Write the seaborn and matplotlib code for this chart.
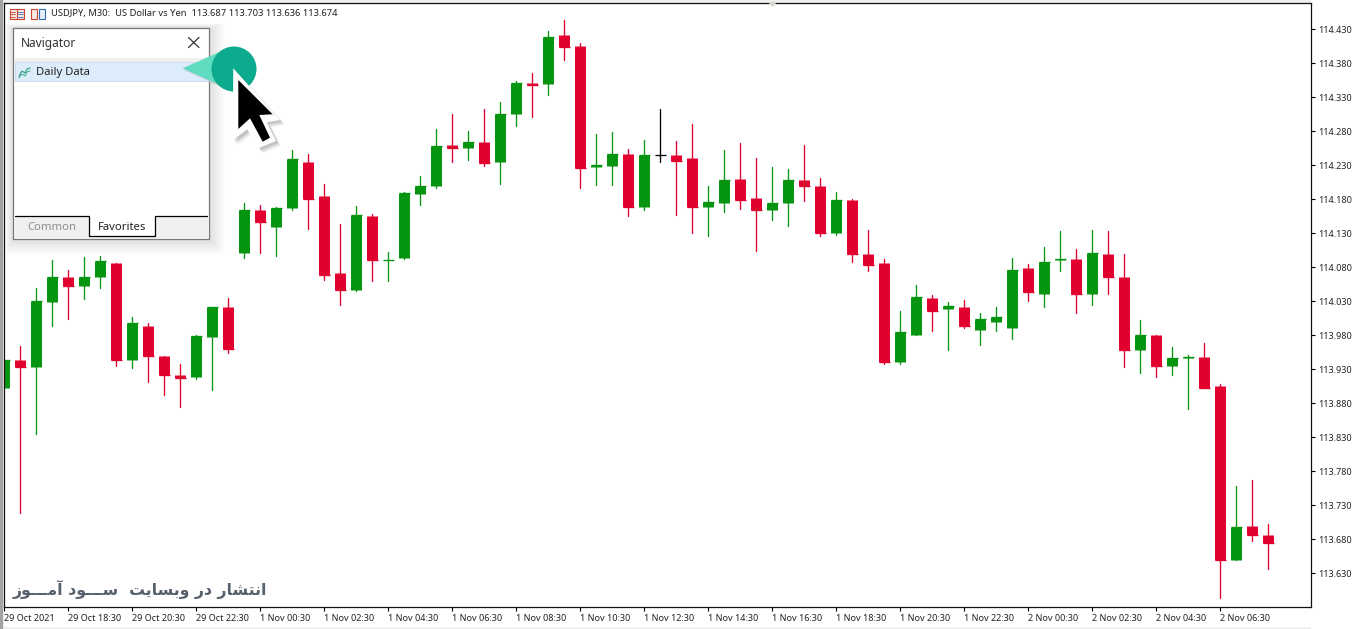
import numpy as np
import pandas as pd
import seaborn as sns
import matplotlib.pyplot as plt
from matplotlib.lines import Line2D
from matplotlib.patches import Circle, Polygon, Rectangle
from matplotlib.transforms import Affine2D

# USDJPY M30 candles
opens = [113.903, 113.944, 113.934, 114.029, 114.066, 114.053, 114.065, 114.086, 113.943, 113.994,
         113.949, 113.922, 113.918, 113.978, 114.022, 114.101, 114.164, 114.139, 114.167, 114.235,
         114.185, 114.072, 114.046, 114.155, 114.090, 114.093, 114.188, 114.199, 114.260, 114.256,
         114.264, 114.235, 114.306, 114.351, 114.349, 114.422, 114.405, 114.227, 114.229, 114.247,
         114.169, 114.245, 114.245, 114.241, 114.168, 114.175, 114.210, 114.182, 114.165, 114.174,
         114.208, 114.200, 114.131, 114.179, 114.100, 114.086, 113.940, 113.981, 114.035, 114.018,
         114.022, 113.988, 114.000, 113.991, 114.079, 114.041, 114.090, 114.092, 114.041, 114.100,
         114.066, 113.959, 113.980, 113.935, 113.946, 113.948, 113.905, 113.650, 113.700, 113.687]
highs = [113.944, 113.964, 114.050, 114.091, 114.076, 114.095, 114.097, 114.087, 114.007, 113.998,
         113.950, 113.938, 113.980, 114.022, 114.035, 114.175, 114.172, 114.169, 114.253, 114.247,
         114.203, 114.144, 114.170, 114.158, 114.103, 114.191, 114.214, 114.283, 114.305, 114.280,
         114.313, 114.323, 114.354, 114.366, 114.428, 114.444, 114.410, 114.276, 114.279, 114.254,
         114.267, 114.313, 114.266, 114.291, 114.200, 114.253, 114.263, 114.241, 114.228, 114.225,
         114.260, 114.211, 114.191, 114.180, 114.135, 114.092, 114.016, 114.054, 114.039, 114.029,
         114.032, 114.013, 114.022, 114.094, 114.085, 114.110, 114.133, 114.107, 114.135, 114.133,
         114.100, 114.002, 113.981, 113.963, 113.951, 113.969, 113.908, 113.758, 113.767, 113.703]
lows = [113.903, 113.719, 113.835, 113.993, 114.004, 114.034, 114.049, 113.935, 113.932, 113.911,
        113.892, 113.874, 113.916, 113.900, 113.954, 114.093, 114.101, 114.097, 114.165, 114.136,
        114.062, 114.024, 114.045, 114.060, 114.060, 114.092, 114.171, 114.196, 114.235, 114.238,
        114.229, 114.203, 114.288, 114.301, 114.334, 114.385, 114.197, 114.201, 114.201, 114.156,
        114.165, 114.235, 114.157, 114.130, 114.126, 114.162, 114.166, 114.104, 114.149, 114.141,
        114.178, 114.126, 114.128, 114.088, 114.074, 113.938, 113.938, 113.980, 113.986, 113.958,
        113.990, 113.966, 113.987, 113.974, 114.031, 114.021, 114.074, 114.013, 114.025, 114.040,
        113.934, 113.924, 113.918, 113.921, 113.871, 113.903, 113.594, 113.650, 113.678, 113.636]
closes = [113.944, 113.934, 114.030, 114.066, 114.053, 114.066, 114.089, 113.943, 113.998, 113.949,
          113.921, 113.917, 113.979, 114.022, 113.960, 114.164, 114.147, 114.167, 114.239, 114.180,
          114.069, 114.046, 114.157, 114.091, 114.091, 114.189, 114.200, 114.258, 114.255, 114.264,
          114.234, 114.305, 114.351, 114.348, 114.419, 114.404, 114.226, 114.230, 114.247, 114.169,
          114.245, 114.245, 114.237, 114.168, 114.176, 114.208, 114.179, 114.165, 114.175, 114.208,
          114.199, 114.131, 114.179, 114.099, 114.084, 113.940, 113.985, 114.036, 114.016, 114.023,
          113.993, 114.004, 114.007, 114.076, 114.043, 114.088, 114.092, 114.040, 114.101, 114.065,
          113.959, 113.980, 113.935, 113.947, 113.948, 113.903, 113.650, 113.698, 113.687, 113.674]

price_ticks = [114.430, 114.380, 114.330, 114.280, 114.230, 114.180, 114.130, 114.080, 114.030,
               113.980, 113.930, 113.880, 113.830, 113.780, 113.730, 113.680, 113.630]
time_labels = ["29 Oct 2021", "29 Oct 18:30", "29 Oct 20:30", "29 Oct 22:30", "1 Nov 00:30",
               "1 Nov 02:30", "1 Nov 04:30", "1 Nov 06:30", "1 Nov 08:30", "1 Nov 10:30",
               "1 Nov 12:30", "1 Nov 14:30", "1 Nov 16:30", "1 Nov 18:30", "1 Nov 20:30",
               "1 Nov 22:30", "2 Nov 00:30", "2 Nov 02:30", "2 Nov 04:30", "2 Nov 06:30"]
header = "USDJPY, M30:  US Dollar vs Yen  113.687 113.703 113.636 113.674"

# matplotlib does not shape arabic script, so joined forms are listed in reading
# order and reversed for display
watermark_glyphs = ["\ufe8d", "\ufee7", "\ufe98", "\ufeb8", "\ufe8e", "\ufead", " ",
                    "\ufea9", "\ufead", " ",
                    "\ufeed", "\ufe91", "\ufeb4", "\ufe8e", "\ufef3", "\ufe96", " ", " ",
                    "\ufeb3", "\u0640", "\u0640", "\u0640", "\ufeee", "\ufea9", " ",
                    "\ufe81", "\ufee3", "\u0640", "\u0640", "\u0640", "\ufeee", "\ufeaf"]

GREEN = "#069510"
RED = "#e2002f"
palette = {"up": GREEN, "down": RED, "flat": "black"}

W, H = 1364, 629
sns.set_theme(style="white")
plt.rcParams["font.family"] = ["Noto Sans", "DejaVu Sans"]

idx = np.arange(len(opens))
o, h, l, c = map(np.array, (opens, highs, lows, closes))
direction = np.where(c > o, "up", np.where(c < o, "down", "flat"))

wicks = pd.concat([
    pd.DataFrame({"idx": idx, "price": h, "direction": direction}),
    pd.DataFrame({"idx": idx, "price": l, "direction": direction}),
])
bodies = pd.concat([
    pd.DataFrame({"idx": idx, "price": o, "direction": direction}),
    pd.DataFrame({"idx": idx, "price": c, "direction": direction}),
])

fig = plt.figure(figsize=(W / 100, H / 100), dpi=100, facecolor="#efefef")
# frame is 4..1311 by 3..607 in image pixels
ax = fig.add_axes([4 / W, 1 - 607 / H, (1311 - 4) / W, (607 - 3) / H], facecolor="white")

sns.lineplot(data=wicks, x="idx", y="price", units="idx", estimator=None, hue="direction",
             palette=palette, linewidth=0.95, legend=False, sort=False, ax=ax)
sns.lineplot(data=bodies, x="idx", y="price", units="idx", estimator=None, hue="direction",
             palette=palette, linewidth=7.9, solid_capstyle="butt", legend=False, sort=False, ax=ax)
# thin bodies still get one pixel
ax.hlines(c, idx - 0.34, idx + 0.34, colors=[palette[d] for d in direction], linewidth=0.95)

ax.set_xlim(-0.03, 81.66)
ax.set_ylim(113.5804, 114.4687)
ax.set_xlabel("")
ax.set_ylabel("")

ax.yaxis.tick_right()
ax.set_yticks(price_ticks)
ax.set_yticklabels([f"{p:.3f}" for p in price_ticks])
ax.set_xticks(idx[::4])
ax.set_xticklabels(time_labels, ha="left")
ax.tick_params(axis="both", length=3, width=0.8, color="black", labelsize=6.5, pad=2,
               labelcolor="#222222", bottom=True, right=True)
for s in ax.spines.values():
    s.set_visible(True)
    s.set_color("#111111")
    s.set_linewidth(0.9)

# white strip for the price labels, grey band under the dates
fig.add_artist(Rectangle((1311 / W, 0), 1 - 1311 / W, 1, transform=fig.transFigure,
                         color="white", zorder=-1))
fig.add_artist(Rectangle((3 / W, 3 / H), 1 - 3 / W, (H - 3 - 3) / H, transform=fig.transFigure,
                         color="white", zorder=-1))
fig.add_artist(Rectangle((0, 0), 2 / W, 1, transform=fig.transFigure, color="#a3a3a3", zorder=-1))

# overlays are placed in image pixels
px = Affine2D().scale(1 / W, -1 / H).translate(0, 1) + fig.transFigure


def rect(x0, y0, x1, y1, fc="none", ec="none", lw=0, z=2, alpha=None):
    fig.add_artist(Rectangle((x0, y0), x1 - x0, y1 - y0, transform=px, facecolor=fc, edgecolor=ec,
                             linewidth=lw, zorder=z, alpha=alpha))


def line(xs, ys, color="black", lw=0.8, z=4):
    fig.add_artist(Line2D(xs, ys, transform=px, color=color, linewidth=lw, zorder=z))


def poly(points, color, z, alpha=None):
    fig.add_artist(Polygon(points, transform=px, facecolor=color, edgecolor="none", zorder=z,
                           alpha=alpha))


def label(x, y, s, size, color="#222222", **kw):
    fig.text(x / W, 1 - y / H, s, fontsize=size, color=color, va="center", zorder=6, **kw)


# header line and its two icons
rect(9.5, 8.5, 23.5, 18.5, fc="#fbe9e4", ec="#c8432f", lw=0.8, z=3)
line([16.5, 16.5], [8.5, 18.5], "#c8432f")
for yy in (11.5, 14, 16.5):
    line([10, 15], [yy, yy], "#c8432f", lw=0.6)
    line([18, 23], [yy, yy], "#3a6fb5", lw=0.6)
rect(30.5, 8.5, 37, 18.5, fc="#fbe9e4", ec="#c8432f", lw=0.8, z=3)
rect(38.5, 8.5, 44.5, 18.5, fc="#e6f0fa", ec="#2d6cb0", lw=0.8, z=3)
label(51, 13.5, header, 6.76)

# small marker on the top edge
poly([(768, 2), (777, 2), (772.5, 7)], "#d9d6cf", 3)

# soft shadow round the navigator
for grow in range(1, 17):
    rect(13 - grow * 0.5, 28 - grow * 0.3, 209 + grow, 239 + grow, fc="#666666", alpha=0.012, z=1.5)

# navigator panel
rect(13, 28, 209, 239, fc="white", ec="#777777", lw=0.9, z=2)
rect(14, 58, 208.5, 62, fc="#efefef", z=2.2)
rect(15, 62, 208.5, 81, fc="#dcecfa", ec="#c3d9ec", lw=0.6, z=2.3)
rect(14, 216, 208.5, 238, fc="#f0f0f0", z=2.2)
rect(89, 216, 155, 236, fc="white", z=2.3)
line([15, 88.5, 88.5, 155, 155, 207], [216, 216, 236, 236, 216, 216], "black", 0.9)
label(21, 43, "Navigator", 8.6, color="#333333")
line([188.5, 199], [37.5, 47.5], "#333333", 0.9)
line([188.5, 199], [47.5, 37.5], "#333333", 0.9)
label(36, 72.8, "Daily Data", 8.1, color="#222222")
label(27.5, 227.3, "Common", 8.1, color="#8c8c8c")
label(98, 227.3, "Favorites", 8.1, color="#222222")
line([19, 22, 25, 27, 30], [76, 71, 73, 69, 68], "#2a9d78", 0.8)
line([19, 22, 25, 27, 30], [78, 74, 76, 72, 71], "#2a9d78", 0.6)

# teal callout
poly([(184, 70), (222, 54), (237, 94)], "#777777", 2.9, alpha=0.25)
poly([(182.7, 68.3), (220, 51.7), (235, 91.7)], "#5fdcc0", 3)
fig.add_artist(Circle((234, 69), 22.5, transform=px, facecolor="#0cab8e", edgecolor="none",
                      zorder=3.1))

# cursor with white outline and grey shadow
outline = [(233.3, 68.3), (232.7, 140), (247.3, 129.3), (258.3, 148.3), (276, 141),
           (266.7, 122.3), (280, 120)]
for shift, a in ((5, 0.06), (4, 0.08), (3, 0.1), (2, 0.12)):
    poly([(x + shift, y + shift) for x, y in outline], "#444444", 3.2, alpha=a)
poly(outline, "white", 3.3)
arrow = [(238.3, 80), (238.3, 129), (250, 118.3), (262.7, 141.7), (270, 137.7),
         (259.3, 115), (272.7, 114.3)]
poly(arrow, "black", 3.4)

# site watermark
label(13, 589.5, "".join(reversed(watermark_glyphs)), 11.3, color="#56616d", fontweight="bold",
      family="DejaVu Sans")

fig.savefig("out.png", dpi=100, facecolor=fig.get_facecolor())
